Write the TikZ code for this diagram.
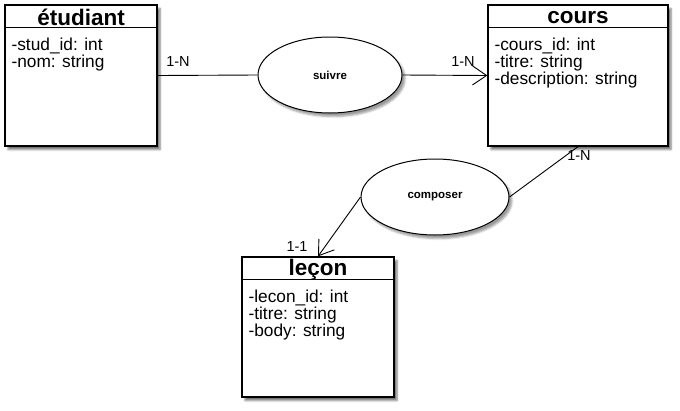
\documentclass[tikz,border=0pt]{standalone}
\usepackage{fontspec}
\setmainfont{Liberation Sans}
\usetikzlibrary{
	positioning,
	arrows.meta,
	shadows.blur,
	shapes.geometric
}

\begin{document}
\begin{tikzpicture}[x=1pt,y=-1pt,
	entity/.style={draw,line width=1.3pt,fill=white,inner sep=0pt,
		blur shadow={shadow xshift=3pt,shadow yshift=-3.5pt,shadow blur radius=2pt,shadow opacity=55}},
	relation/.style={ellipse,draw,line width=1pt,fill=white,inner sep=0pt,
		minimum height=76pt,font=\fontsize{11.5}{13}\selectfont\bfseries,
		blur shadow={shadow xshift=3pt,shadow yshift=-3.5pt,shadow blur radius=2pt,shadow opacity=40}},
	titre/.style={font=\fontsize{22.5}{22}\selectfont\bfseries,inner sep=0pt},
	attrs/.style={anchor=north west,align=left,inner sep=0pt,
		font=\fontsize{17.3}{17}\selectfont},
	card/.style={font=\fontsize{14.5}{14}\selectfont,inner sep=0pt},
	conn/.style={line width=0.9pt},
	open/.style={-{Straight Barb[length=14pt,width=19pt,line width=0.9pt]}}
]
	\useasboundingbox (0,0) rectangle (680,410);

	% entities
	\node[entity,minimum width=152pt,minimum height=141pt] (etu)   at (81,75.5) {};
	\node[entity,minimum width=180pt,minimum height=141pt] (cours) at (578,75.5) {};
	\node[entity,minimum width=152pt,minimum height=140pt] (lecon) at (318,327) {};

	\foreach \e/\t in {etu/étudiant,cours/cours,lecon/leçon}{
		\draw[line width=1pt] ([yshift=-23pt]\e.north west) -- ([yshift=-23pt]\e.north east);
		\node[titre] (\e-titre) at ([yshift=-13pt]\e.north) {\t};
	}
	\node[attrs] (etu-attr)   at ([xshift=7pt,yshift=-33pt]etu.north west)   {-stud\_id: int\\-nom: string};
	\node[attrs] (cours-attr) at ([xshift=7pt,yshift=-33pt]cours.north west) {-cours\_id: int\\-titre: string\\-description: string};
	\node[attrs] (lecon-attr) at ([xshift=7pt,yshift=-33pt]lecon.north west) {-lecon\_id: int\\-titre: string\\-body: string};

	% relations
	\node[relation,minimum width=144pt] (suivre)   at (330,75)  {suivre};
	\node[relation,minimum width=148pt] (composer) at (435,197) {composer};

	\draw[conn]      (etu.east)       -- (suivre.west);
	\draw[conn,open] (suivre.east)    -- (cours.west);
	\draw[conn]      (cours.south)    -- (composer.east);
	\draw[conn,open] (composer.west)  -- (lecon.north);

	% cardinalities
	\node[card] (c-etu)    at (178,62)  {1-N};
	\node[card] (c-cours)  at (463,62)  {1-N};
	\node[card] (c-cours2) at (579,156) {1-N};
	\node[card] (c-lecon)  at (297,247) {1-1};
\end{tikzpicture}
\end{document}
